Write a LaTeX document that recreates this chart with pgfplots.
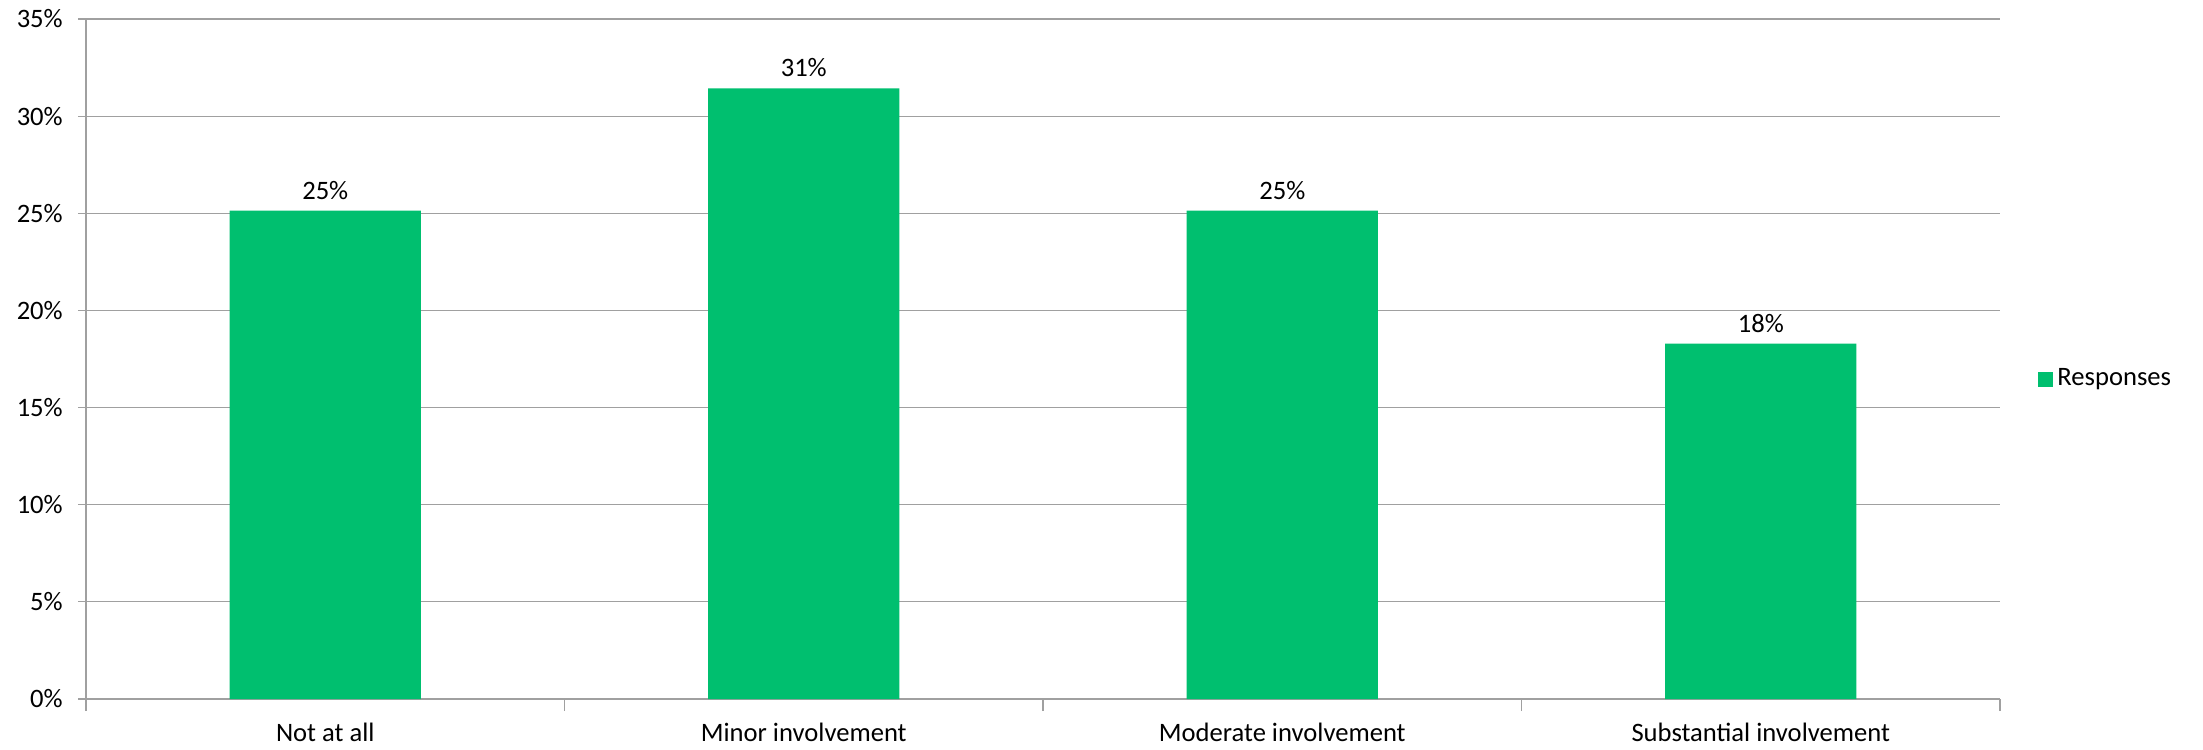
\documentclass[border=0pt]{standalone}
\usepackage{pgfplots}
\pgfplotsset{compat=1.18}
\usepackage{fontspec}
\setmainfont{Carlito}
\definecolor{barg}{HTML}{00BF6F}
\definecolor{gridg}{HTML}{A0A0A0}
\begin{document}
\fontsize{13.3bp}{16bp}\selectfont
\begin{tikzpicture}
\begin{axis}[
    name=ax,
    scale only axis,
    width=957bp, height=340bp,
    ybar,
    bar width=0.4,
    xmin=-0.5, xmax=3.5,
    ymin=0, ymax=35,
    xtick={0,1,2,3},
    xticklabels={Not at all, Minor involvement, Moderate involvement, Substantial involvement},
    major x tick style={draw=none},
    minor xtick={-0.5,0.5,1.5,2.5,3.5},
    minor tick length=6bp,
    ytick={0,5,...,35},
    yticklabel={\pgfmathprintnumber{\tick}\%},
    /pgf/number format/assume math mode=true,
    major tick length=4bp,
    tick align=outside,
    tick style={gridg, line width=0.6bp},
    axis x line*=bottom,
    axis y line*=left,
    axis line style={gridg, line width=0.6bp, -},
    ymajorgrids=true,
    grid style={gridg, line width=0.6bp},
    yticklabel style={xshift=-3bp},
    xticklabel style={yshift=-3.5bp},
    nodes near coords={\pgfmathprintnumber[fixed,precision=0]{\pgfplotspointmeta}\%},
    nodes near coords style={font=\fontsize{13.3bp}{16bp}\selectfont, yshift=1bp},
    legend style={draw=none, at={(rel axis cs:1,0.47)}, anchor=west, xshift=19bp,
        legend cell align=left, inner sep=0pt},
    legend image code/.code={\fill[barg] (0bp,-3.75bp) rectangle (7.5bp,3.75bp);},
]
\addplot[fill=barg, draw=none] coordinates {
    (0,25.14)
    (1,31.43)
    (2,25.14)
    (3,18.29)
};
\legend{Responses}
\coordinate (bl) at (rel axis cs:0,0);
\coordinate (tr) at (rel axis cs:1,1);
\end{axis}
\pgfresetboundingbox
\path[use as bounding box] ([shift={(-43bp,-25bp)}]bl) rectangle ([shift={(101.5bp,9.5bp)}]tr);
\end{tikzpicture}
\end{document}
